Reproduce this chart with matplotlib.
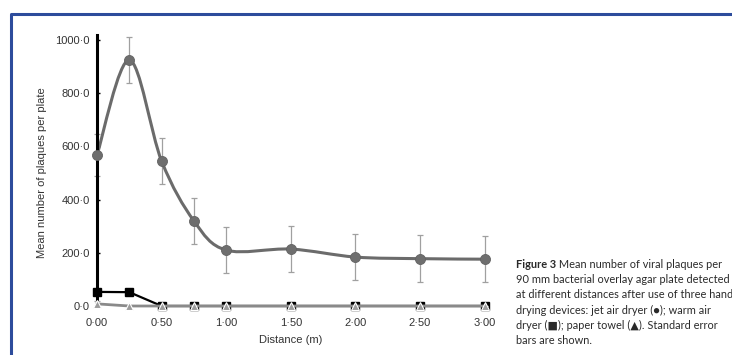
#!/usr/bin/env python3
# -*- coding: utf-8 -*-
"""
Figure 3: mean viral plaques per plate vs distance for three hand drying devices
"""

import matplotlib
matplotlib.use('Agg')
import matplotlib.pyplot as plt
from matplotlib.path import Path
from matplotlib.patches import PathPatch
from matplotlib.lines import Line2D

plt.rcParams['font.family'] = ['Liberation Sans', 'DejaVu Sans']

# data
distance = [0.0, 0.25, 0.5, 0.75, 1.0, 1.5, 2.0, 2.5, 3.0]
jet_air = [568, 925, 545, 320, 210, 214, 184, 178, 176]
jet_err = [80, 85, 88, 87, 87, 87, 87, 88, 87]
warm_air = [53, 52, 0, 0, 0, 0, 0, 0, 0]
paper_towel = [8, 0, 0, 0, 0, 0, 0, 0, 0]
paper_err = [12, 0, 0, 0, 0, 0, 0, 0, 0]

x_ticks = [0.0, 0.5, 1.0, 1.5, 2.0, 2.5, 3.0]
x_tick_labels = ['0·00', '0·50', '1·00', '1·50', '2·00', '2·50', '3·00']
y_ticks = [0, 200, 400, 600, 800, 1000]
y_tick_labels = ['0·0', '200·0', '400·0', '600·0', '800·0', '1000·0']

x_label = 'Distance (m)'
y_label = 'Mean number of plaques per plate'
caption_head = 'Figure 3'
caption_lines = [
    ' Mean number of viral plaques per',
    '90 mm bacterial overlay agar plate detected',
    'at different distances after use of three hand',
    'drying devices: jet air dryer (●); warm air',
    'dryer (■); paper towel (▲). Standard error',
    'bars are shown.',
]

W, H = 732, 355


def smooth_path(xs, ys):
    """Catmull-Rom curve through the points, as cubic Bezier segments"""
    pts = list(zip(xs, ys))
    verts = [pts[0]]
    codes = [Path.MOVETO]
    n = len(pts)
    for i in range(n - 1):
        p0 = pts[i - 1] if i > 0 else pts[i]
        p1 = pts[i]
        p2 = pts[i + 1]
        p3 = pts[i + 2] if i + 2 < n else pts[i + 1]
        c1 = (p1[0] + (p2[0] - p0[0]) / 6.0, p1[1] + (p2[1] - p0[1]) / 6.0)
        c2 = (p2[0] - (p3[0] - p1[0]) / 6.0, p2[1] - (p3[1] - p1[1]) / 6.0)
        verts += [c1, c2, p2]
        codes += [Path.CURVE4] * 3
    return Path(verts, codes)


fig = plt.figure(figsize=(W / 100, H / 100), dpi=100)
fig.patch.set_facecolor('white')

ax = fig.add_axes([97 / W, 49 / H, 400.5 / W, 271.3 / H])
ax.set_xlim(0, 3.1)
ax.set_ylim(0, 1020)

# jet air dryer
ax.errorbar(distance, jet_air, yerr=jet_err, fmt='none', ecolor='#a0a0a0',
            elinewidth=0.9, capsize=2.5, capthick=0.9, zorder=2, clip_on=False)
ax.add_patch(PathPatch(smooth_path(distance, jet_air), fill=False,
                       edgecolor='#6b6b6b', lw=2.2, zorder=3, clip_on=False))
ax.plot(distance, jet_air, 'o', ms=7.2, mfc='#6e6e6e', mec='#626262',
        mew=0.6, zorder=4, clip_on=False)

# warm air dryer
ax.plot(distance, warm_air, '-s', color='black', lw=1.6, ms=6,
        zorder=5, clip_on=False)

# paper towel
ax.errorbar(distance, paper_towel, yerr=paper_err, fmt='none', ecolor='#a0a0a0',
            elinewidth=0.9, capsize=2, capthick=0.9, zorder=5, clip_on=False)
ax.plot(distance, paper_towel, '-^', color='#8a8a8a', lw=2, ms=6,
        mfc='#9c9c9c', mec='white', mew=0.8, zorder=6, clip_on=False)

for side in ['top', 'right', 'bottom']:
    ax.spines[side].set_visible(False)
ax.spines['left'].set_linewidth(2.2)
ax.spines['left'].set_color('black')
ax.spines['left'].set_zorder(3.5)

ax.set_xticks(x_ticks)
ax.set_xticklabels(x_tick_labels)
ax.set_yticks(y_ticks)
ax.set_yticklabels(y_tick_labels)
ax.tick_params(axis='x', length=0, pad=8.5, labelsize=8, labelcolor='#333333')
ax.tick_params(axis='y', direction='in', length=2.5, width=1, pad=5,
               labelsize=8, labelcolor='#333333')

fig.text(291 / W, 1 - 340 / H, x_label, ha='center', va='center',
         fontsize=8, color='#333333')
fig.text(42 / W, 1 - 173 / H, y_label, ha='center', va='center',
         rotation=90, fontsize=8, color='#333333')

# caption
cap_font = ['Lato', 'DejaVu Sans']
cap_size = 7.9
head = fig.text(516 / W, 1 - 264 / H, caption_head, ha='left', va='center',
                fontsize=cap_size, fontweight='bold', family=cap_font,
                color='#2a2a2a')
ax.annotate(caption_lines[0], xy=(1, 0), xycoords=head, ha='left', va='bottom',
            fontsize=cap_size, family=cap_font, color='#2a2a2a',
            annotation_clip=False)
for i, line in enumerate(caption_lines[1:], start=1):
    fig.text(516 / W, 1 - (264 + i * 15.4) / H, line, ha='left', va='center',
             fontsize=cap_size, family=cap_font, color='#2a2a2a')

# blue frame round the figure
fig.add_artist(Line2D([10.5 / W, 10.5 / W, 1.01], [-0.01, 1 - 13.5 / H, 1 - 13.5 / H],
                      transform=fig.transFigure, color='#2d4c9c', lw=2.2))

fig.savefig('out.png', dpi=100)
